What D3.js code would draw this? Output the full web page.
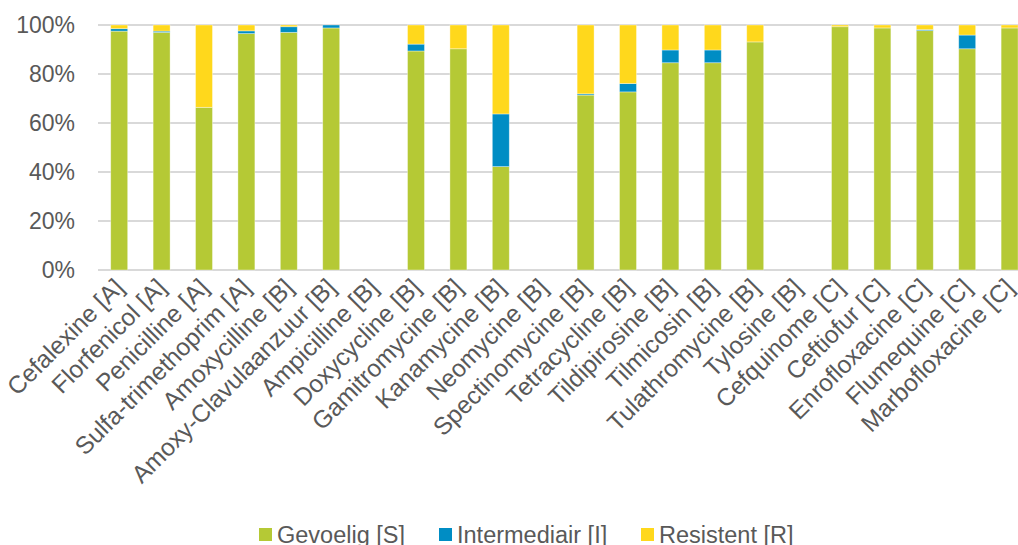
<!DOCTYPE html>
<html>
<head>
<meta charset="utf-8">
<script src="https://cdn.jsdelivr.net/npm/d3@7"></script>
<style>
  body { margin: 0; background: #fff; }
  text { font-family: "Liberation Sans", Arial, sans-serif; fill: #595959; }
</style>
</head>
<body>
<div id="chart"></div>
<script>
// categories and percentages (empty = no data)
var categories = ["Cefalexine [A]", "Florfenicol [A]", "Penicilline [A]", "Sulfa-trimethoprim [A]",
  "Amoxycilline  [B]", "Amoxy-Clavulaanzuur [B]", "Ampicilline [B]", "Doxycycline [B]",
  "Gamitromycine [B]", "Kanamycine [B]", "Neomycine [B]", "Spectinomycine [B]",
  "Tetracycline [B]", "Tildipirosine [B]", "Tilmicosin [B]", "Tulathromycine [B]",
  "Tylosine [B]", "Cefquinome [C]", "Ceftiofur [C]", "Enrofloxacine [C]",
  "Flumequine [C]", "Marbofloxacine [C]"];
var gevoelig = [97.5, 97.0, 66.4, 96.5, 97.0, 98.8, 0, 89.4, 90.3, 42.2, 0, 71.4,
  72.7, 84.6, 84.6, 93.1, 0, 99.3, 98.8, 97.7, 90.3, 98.8];
var intermediair = [1.0, 0.5, 0, 1.1, 2.3, 1.2, 0, 2.8, 0, 21.5, 0, 0.5,
  3.4, 5.2, 5.2, 0, 0, 0, 0, 0.4, 5.6, 0];
var resistent = [1.5, 2.5, 33.6, 2.4, 0.7, 0, 0, 7.8, 9.7, 36.3, 0, 28.1,
  23.9, 10.2, 10.2, 6.9, 0, 0.7, 1.2, 1.9, 4.1, 1.2];
var yTicks = [0, 20, 40, 60, 80, 100];

var seriesNames = ["Gevoelig [S]", "Intermediair [I]", "Resistent [R]"];
var colors = ["#b5c935", "#008dc4", "#ffd81c"];

var width = 1018, height = 545;
var plot = {left: 98, top: 25, bottom: 270};

var svg = d3.select("#chart").append("svg")
  .attr("width", width)
  .attr("height", height);

var table = categories.map(function(c, i) {
  return {cat: c, s: gevoelig[i], i: intermediair[i], r: resistent[i]};
});
var stack = d3.stack().keys(["s", "i", "r"])(table);

var x = d3.scaleBand()
  .domain(categories)
  .range([plot.left, plot.left + 22 * 42.4])
  .paddingInner(0.6)
  .paddingOuter(0.3);

var y = d3.scaleLinear()
  .domain([0, 100])
  .range([plot.bottom, plot.top]);

// gridlines
svg.append("g")
  .selectAll("line")
  .data(yTicks)
  .join("line")
    .attr("x1", plot.left)
    .attr("x2", width)
    .attr("y1", function(d) { return y(d); })
    .attr("y2", function(d) { return y(d); })
    .style("stroke", "#d9d9d9")
    .style("stroke-width", 2);

// y labels
svg.append("g")
  .selectAll("text")
  .data(yTicks)
  .join("text")
    .attr("x", 75)
    .attr("y", function(d) { return y(d); })
    .attr("dy", "0.36em")
    .attr("text-anchor", "end")
    .style("font-size", "23px")
    .text(function(d) { return d + "%"; });

// bars
svg.append("g")
  .selectAll("g")
  .data(stack)
  .join("g")
    .style("fill", function(d, i) { return colors[i]; })
  .selectAll("rect")
  .data(function(d) { return d.filter(function(p) { return p[1] - p[0] > 0; }); })
  .join("rect")
    .attr("x", function(d) { return x(d.data.cat); })
    .attr("width", x.bandwidth())
    .attr("y", function(d) { return y(d[1]); })
    .attr("height", function(d) { return y(d[0]) - y(d[1]); })
    .style("stroke", "rgba(255,255,255,0.45)")
    .style("stroke-width", 0.8);

// category labels
svg.append("g")
  .selectAll("text")
  .data(categories)
  .join("text")
    .attr("text-anchor", "end")
    .attr("transform", function(d) {
      return "translate(" + (x(d) + x.bandwidth() / 2 + 6) + "," + 289 + ") rotate(-45)";
    })
    .style("font-size", "24.5px")
    .text(function(d) { return d; });

// legend
var legendX = [259, 439, 641];
var legend = svg.append("g")
  .selectAll("g")
  .data(seriesNames)
  .join("g")
    .attr("transform", function(d, i) { return "translate(" + legendX[i] + ",528)"; });

legend.append("rect")
  .attr("width", 13)
  .attr("height", 13)
  .style("fill", function(d, i) { return colors[i]; });

legend.append("text")
  .attr("x", 18)
  .attr("y", 15)
  .style("font-size", "23.5px")
  .text(function(d) { return d; });
</script>
</body>
</html>
